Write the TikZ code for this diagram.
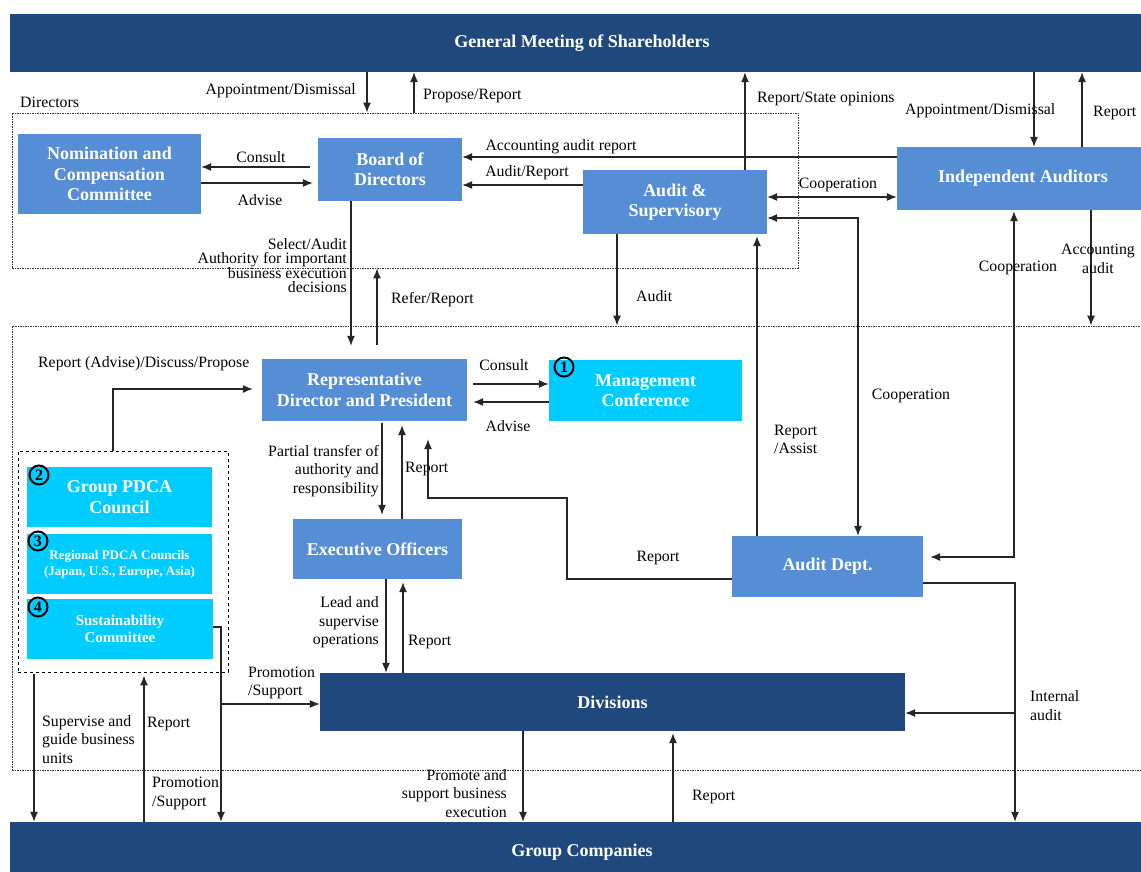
\documentclass[tikz,border=0pt]{standalone}
\usepackage{fontspec}
\setmainfont{Liberation Serif}
\usetikzlibrary{arrows.meta,positioning,calc}
\definecolor{navyblue}{RGB}{31,73,125}
\definecolor{midblue}{RGB}{85,142,213}
\definecolor{skycyan}{RGB}{0,204,255}
\tikzstyle{navybox} = [fill=navyblue, text=white, inner sep=0pt, align=center, font=\fontsize{18}{20.5}\selectfont\bfseries]
\tikzstyle{bluebox} = [fill=midblue, text=white, inner sep=0pt, align=center, font=\fontsize{18}{20.5}\selectfont\bfseries]
\tikzstyle{cyanbox} = [fill=skycyan, text=white, inner sep=0pt, align=center, font=\fontsize{18}{20.5}\selectfont\bfseries]
\tikzstyle{zone} = [draw=black!80, line width=0.9pt, dash pattern=on 1.5pt off 1pt, inner sep=0pt]
\tikzstyle{badge} = [draw, circle, line width=2pt, inner sep=0pt, minimum size=19pt, font=\fontsize{16}{16}\selectfont\bfseries]
\tikzstyle{lbl} = [inner sep=0pt, font=\fontsize{15.8}{18.5}\selectfont]
\tikzstyle{Arrow} = [-{Latex[length=10pt,width=8pt]}, line width=1.1pt, draw=black!85]
\tikzstyle{DArrow} = [{Latex[length=10pt,width=8pt]}-{Latex[length=10pt,width=8pt]}, line width=1.1pt, draw=black!85]

\begin{document}
\begin{tikzpicture}[x=1pt,y=-1pt]
  \useasboundingbox (0,0) rectangle (1141,872);
  %%%%% Zones %%%%%
  \node (dirbox) [zone, minimum width=786pt, minimum height=155pt] at (405,190.5) {};
  \node (execzone) [zone, minimum width=1148pt, minimum height=444pt] at (586,548) {};
  \node (pdcabox) [draw, dashed, line width=0.9pt, inner sep=0pt, minimum width=210pt, minimum height=221pt] at (123,561.5) {};
  \node (lDirs) [lbl, anchor=west] at (20,102) {Directors};

  %%%%% Boxes %%%%%
  \node (gms) [navybox, minimum width=1144pt, minimum height=58pt] at (582,43) {General Meeting of Shareholders};
  \node (groupco) [navybox, minimum width=1144pt, minimum height=60pt] at (582,852) {Group Companies};
  \node (nomcom) [bluebox, minimum width=183pt, minimum height=80pt] at (109.5,174) {Nomination and\\Compensation\\Committee};
  \node (board) [bluebox, minimum width=144pt, minimum height=63pt] at (390,169.5) {Board of\\Directors};
  \node (audsup) [bluebox, minimum width=184pt, minimum height=64pt] at (675,202) {Audit \&\\Supervisory};
  \node (indaud) [bluebox, minimum width=252pt, minimum height=63pt] at (1023,178.5) {Independent Auditors};
  \node (repdir) [bluebox, minimum width=205pt, minimum height=62pt] at (364.5,390) {Representative\\Director and President};
  \node (mgmt) [cyanbox, minimum width=193pt, minimum height=61pt] at (645.5,390.5) {Management\\Conference};
  \node (execoff) [bluebox, minimum width=169pt, minimum height=60pt] at (377.5,549) {Executive Officers};
  \node (pdca) [cyanbox, minimum width=185pt, minimum height=60pt] at (119.5,497) {Group PDCA\\Council};
  \node (regpdca) [cyanbox, minimum width=185pt, minimum height=60pt, font=\fontsize{13}{16}\selectfont\bfseries] at (119.5,564) {Regional PDCA Councils\\(Japan, U.S., Europe, Asia)};
  \node (sustain) [cyanbox, minimum width=186pt, minimum height=60pt, font=\fontsize{15}{17.5}\selectfont\bfseries] at (120,629) {Sustainability\\Committee};
  \node (auddept) [bluebox, minimum width=191pt, minimum height=61pt] at (827.5,566.5) {Audit Dept.};
  \node (divisions) [navybox, minimum width=585pt, minimum height=58pt] at (612.5,702) {Divisions};
  \node (n1) [badge] at (564,367) {1};
  \node (n2) [badge] at (39,475) {2};
  \node (n3) [badge] at (38,541) {3};
  \node (n4) [badge] at (38,607) {4};

  %%%%% Shareholders and directors %%%%%
  \draw [Arrow] (367,0 |- gms.south) -- (367,0 |- dirbox.north);
  \draw [Arrow] (414,0 |- dirbox.north) -- (414,0 |- gms.south);
  \node (lAppA) [lbl, anchor=east] at (356,91) {Appointment/Dismissal};
  \node (lPropA) [lbl, anchor=west] at (423,96) {Propose/Report};
  \draw [Arrow, shorten <=8pt] (board.west |- 0,167) -- (nomcom.east |- 0,167);
  \draw [Arrow, shorten >=5pt] (nomcom.east |- 0,183) -- (board.west |- 0,183);
  \node (lCons1) [lbl] at (261,157) {Consult};
  \node (lAdv1) [lbl] at (260,200) {Advise};
  \draw [Arrow] (indaud.west |- 0,157) -- (board.east |- 0,157);
  \draw [Arrow] (audsup.west |- 0,185) -- (board.east |- 0,185);
  \node (lAccRep) [lbl] at (561,147) {Accounting audit report};
  \node (lAudRep) [lbl] at (527,173) {Audit/Report};
  \draw [Arrow] (745,0 |- audsup.north) -- (745,0 |- gms.south);
  \node (lRepState) [lbl, anchor=west] at (757,99) {Report/State opinions};
  \draw [Arrow] (1034,0 |- gms.south) -- (1034,0 |- indaud.north);
  \draw [Arrow] (1082,0 |- indaud.north) -- (1082,0 |- gms.south);
  \node (lAppB) [lbl, anchor=west] at (905,111) {Appointment/Dismissal};
  \node (lRepB) [lbl, anchor=west] at (1093,113) {Report};

  %%%%% Audit links %%%%%
  \draw [DArrow] (audsup.east |- 0,197) -- (indaud.west |- 0,197);
  \node (lCoop1) [lbl] at (838,185) {Cooperation};
  \draw [DArrow] (audsup.east |- 0,218) -- (858,218) -- (858,0 |- auddept.north);
  \node (lCoop2) [lbl] at (911,396) {Cooperation};
  \draw [Arrow, shorten >=2pt] (757,0 |- auddept.north) -- (757,0 |- audsup.south);
  \node (lRepAss) [lbl, anchor=west, align=left] at (774,439.5) {Report\\/Assist};
  \draw [Arrow] (617,0 |- audsup.south) -- (617,0 |- execzone.north);
  \node (lAudit) [lbl, anchor=west] at (636,296) {Audit};
  \draw [Arrow] (1091,0 |- indaud.south) -- (1091,0 |- execzone.north);
  \node (lAccAud) [lbl, align=center] at (1098,259) {Accounting\\audit};
  \draw [DArrow, shorten <=7pt, shorten >=1pt] (auddept.east |- 0,557) -- (1014,557) -- (1014,0 |- indaud.south);
  \node (lCoop3) [lbl] at (1018,268) {Cooperation};

  %%%%% Board and president %%%%%
  \draw [Arrow, shorten >=13pt] (351,0 |- board.south) -- (351,0 |- repdir.north);
  \node (lSelect) [lbl, anchor=east, align=right, font=\fontsize{15.8}{14.5}\selectfont] at (347,265.5) {Select/Audit\\Authority for important\\business execution\\decisions};
  \draw [Arrow, shorten <=14pt] (377,0 |- repdir.north) -- (377,0 |- dirbox.south);
  \node (lRefer) [lbl, anchor=west] at (391,300) {Refer/Report};
  \draw [Arrow, shorten <=6pt] (repdir.east |- 0,384) -- (mgmt.west |- 0,384);
  \draw [Arrow, shorten >=6pt] (mgmt.west |- 0,402) -- (repdir.east |- 0,402);
  \node (lCons2) [lbl] at (504,365) {Consult};
  \node (lAdv2) [lbl] at (508,426) {Advise};
  \draw [Arrow, shorten >=9pt] (113,0 |- pdcabox.north) -- (113,389) -- (repdir.west |- 0,389);
  \node (lRAD) [lbl, anchor=west] at (38,364) {Report (Advise)/Discuss/Propose};

  %%%%% President and officers %%%%%
  \draw [Arrow, shorten <=2pt, shorten >=4pt] (382,0 |- repdir.south) -- (382,0 |- execoff.north);
  \draw [Arrow, shorten >=4pt] (402,0 |- execoff.north) -- (402,0 |- repdir.south);
  \node (lPartial) [lbl, anchor=east, align=right] at (379,471) {Partial transfer of\\authority and\\responsibility};
  \node (lRep1) [lbl, anchor=west] at (405,469) {Report};
  \draw [Arrow, shorten >=18pt] (auddept.west |- 0,579) -- (567,579) -- (567,498) -- (428,498) -- (428,0 |- repdir.south);
  \node (lRep2) [lbl] at (658,558) {Report};
  \draw [Arrow] (386,0 |- execoff.south) -- (386,0 |- divisions.north);
  \draw [Arrow, shorten >=3pt] (403,0 |- divisions.north) -- (403,0 |- execoff.south);
  \node (lLead) [lbl, anchor=east, align=right] at (379,622.5) {Lead and\\supervise\\operations};
  \node (lRep3) [lbl, anchor=west] at (408,642) {Report};

  %%%%% Committees, divisions, group companies %%%%%
  \coordinate (promosplit) at (221,704);
  \draw [Arrow] (sustain.east |- 0,627) -- (221,627) -- (221,0 |- groupco.north);
  \draw [Arrow] (promosplit) -- (divisions.west |- promosplit);
  \node (lPromo1) [lbl, anchor=west, align=left] at (248,683) {Promotion\\/Support};
  \node (lPromo2) [lbl, anchor=west, align=left] at (152,793.5) {Promotion\\/Support};
  \draw [Arrow, shorten <=2pt] (34,0 |- pdcabox.south) -- (34,0 |- groupco.north);
  \draw [Arrow, shorten >=3pt] (144,0 |- groupco.north) -- (144,0 |- pdcabox.south);
  \node (lSupGuide) [lbl, anchor=west, align=left] at (42,739.5) {Supervise and\\guide business\\units};
  \node (lRep4) [lbl, anchor=west] at (147,724) {Report};
  \draw [Arrow] (523,0 |- divisions.south) -- (523,0 |- groupco.north);
  \draw [Arrow, shorten >=2pt] (673,0 |- groupco.north) -- (673,0 |- divisions.south);
  \node (lPromote) [lbl, anchor=east, align=right] at (507,793.5) {Promote and\\support business\\execution};
  \node (lRep5) [lbl, anchor=west] at (692,797) {Report};
  \coordinate (intsplit) at (1015,713);
  \draw [Arrow] (auddept.east |- 0,583) -- (1015,583) -- (1015,0 |- groupco.north);
  \draw [Arrow] (intsplit) -- (divisions.east |- intsplit);
  \node (lIntAud) [lbl, anchor=west, align=left] at (1030,705.5) {Internal\\audit};
\end{tikzpicture}
\end{document}
